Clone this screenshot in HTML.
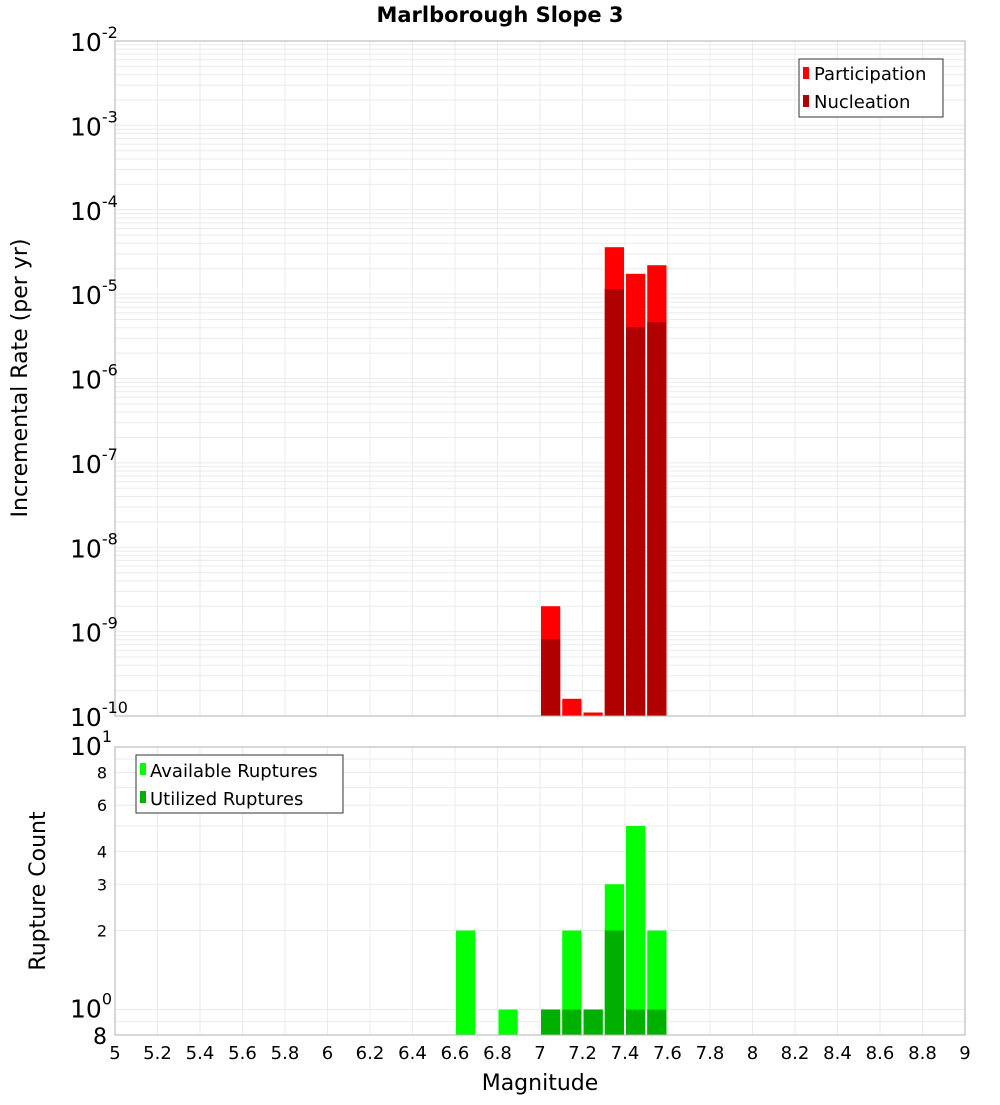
<!DOCTYPE html>
<html><head><meta charset="utf-8"><style>
body{margin:0;background:#fff}
svg{font-family:"DejaVu Sans","Liberation Sans",sans-serif}
</style></head><body>
<svg width="1000" height="1100" xmlns="http://www.w3.org/2000/svg" id="chart">
<text x="500" y="22" text-anchor="middle" font-size="21" font-weight="bold">Marlborough Slope 3</text>
<g id="gtop"></g>
<g id="gbot"></g>
<text transform="translate(27,378) rotate(-90)" text-anchor="middle" font-size="22">Incremental Rate (per yr)</text>
<text transform="translate(45,891) rotate(-90)" text-anchor="middle" font-size="22">Rupture Count</text>
<text x="540" y="1090" text-anchor="middle" font-size="22">Magnitude</text>
<g>
<rect x="799" y="59" width="144" height="58" fill="#fff" stroke="#333"/>
<rect x="803" y="67" width="6" height="12" fill="#ff0000"/>
<text x="814" y="80" font-size="18">Participation</text>
<rect x="803" y="95" width="6" height="12" fill="#b00000"/>
<text x="814" y="108" font-size="18">Nucleation</text>
</g>
<g>
<rect x="136" y="755" width="207" height="58" fill="#fff" stroke="#333"/>
<rect x="140" y="763" width="6" height="12" fill="#00ff00"/>
<text x="150" y="777" font-size="18">Available Ruptures</text>
<rect x="140" y="791" width="6" height="12" fill="#00b000"/>
<text x="150" y="805" font-size="18">Utilized Ruptures</text>
</g>
</svg>
<script>
const mags=[6.65,6.85,7.05,7.15,7.25,7.35,7.45,7.55];
const participation=[0,0,2.0e-9,1.6e-10,1.1e-10,3.6e-5,1.74e-5,2.2e-5];
const nucleation=[0,0,8.1e-10,0,0,1.15e-5,4.06e-6,4.66e-6];
const available=[2,1,1,2,1,3,5,2];
const utilized=[0,0,1,1,1,2,1,1];
const xTicks=[5,5.2,5.4,5.6,5.8,6,6.2,6.4,6.6,6.8,7,7.2,7.4,7.6,7.8,8,8.2,8.4,8.6,8.8,9];
const topExps=[-2,-3,-4,-5,-6,-7,-8,-9,-10];
const botSmall=[2,3,4,6,8];

const NS="http://www.w3.org/2000/svg";
const L=115,R=965;
const T1=41,B1=716,T2=747,B2=1035;
const xs=m=>L+(m-5)/4*(R-L);
const yTop=v=>T1+(-2-Math.log10(v))/8*(B1-T1);
const yBot=v=>T2+(1-Math.log10(v))/(1-Math.log10(0.8))*(B2-T2);
function mk(p,t,a){const e=document.createElementNS(NS,t);for(const k in a)e.setAttribute(k,a[k]);p.appendChild(e);return e;}
const gTop=document.getElementById('gtop'),gBot=document.getElementById('gbot');
function grid(g,T,B,yf,vals){
  for(const v of vals){const y=yf(v);if(y<T-0.5||y>B+0.5)continue;const l=mk(g,'line',{x1:L,x2:R,y1:y,y2:y,stroke:'#ebebeb'});
  
  }
  for(const m of xTicks){const x=xs(m);const l=mk(g,'line',{x1:x,x2:x,y1:T,y2:B,stroke:'#ebebeb'});
  
  }
}
const tv=[];for(let e=-10;e<-2;e++)for(let k=1;k<10;k++)tv.push(k*Math.pow(10,e));tv.push(0.01);
grid(gTop,T1,B1,yTop,tv);
const bv=[0.8,0.9,1,2,3,4,5,6,7,8,9,10];
grid(gBot,T2,B2,yBot,bv);
function bar(g,m,v,yf,B,col,name){if(!v)return;const x0=xs(m-0.05)+1,x1=xs(m+0.05)-1;const y=yf(v);
 const r=mk(g,'rect',{x:x0,y:y,width:x1-x0,height:B-y,fill:col});
 
 }
mags.forEach((m,i)=>{bar(gTop,m,participation[i],yTop,B1,'#ff0000','bar-participation');bar(gTop,m,nucleation[i],yTop,B1,'#b00000','bar-nucleation');});
mags.forEach((m,i)=>{bar(gBot,m,available[i],yBot,B2,'#00ff00','bar-available');bar(gBot,m,utilized[i],yBot,B2,'#00b000','bar-utilized');});
mk(gTop,'rect',{x:L,y:T1,width:R-L,height:B1-T1,fill:'none',stroke:'#b0b0b0'});
mk(gBot,'rect',{x:L,y:T2,width:R-L,height:B2-T2,fill:'none',stroke:'#b0b0b0'});
for(const e of topExps){const y=yTop(Math.pow(10,e));const t=mk(gTop,'text',{x:70,y:y+10,'font-size':25});
 
 
 t.textContent='10';const s=mk(t,'tspan',{dy:-13,'font-size':16});s.textContent=String(e);}
for(const v of botSmall){const y=yBot(v);const t=mk(gBot,'text',{x:107,y:y+6,'font-size':16,'text-anchor':'end'});
 
 
 t.textContent=String(v);}
[[1,'0'],[10,'1']].forEach(([v,e])=>{const y=yBot(v);const t=mk(gBot,'text',{x:70,y:y+8,'font-size':25});
 
 
 t.textContent='10';const s=mk(t,'tspan',{dy:-13,'font-size':16});s.textContent=e;});
{const t=mk(gBot,'text',{x:107,y:B2+9,'font-size':22,'text-anchor':'end'});
 
 
 t.textContent='8';}
for(const m of xTicks){const t=mk(gBot,'text',{x:xs(m),y:1059,'font-size':18,'text-anchor':'middle'});
 
 
 t.textContent=String(m);}
</script>
</body></html>
